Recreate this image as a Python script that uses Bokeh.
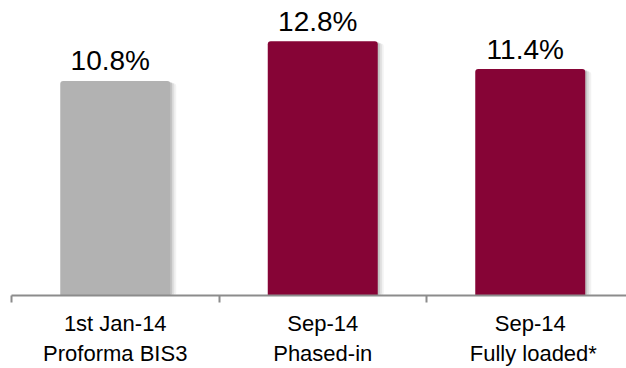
from bokeh.plotting import figure
from bokeh.models import Range1d, LinearAxis, FixedTicker, CustomJSTickFormatter, ColumnDataSource
from bokeh.core.properties import value
from bokeh.embed import file_html
from bokeh.resources import INLINE

categories = ["1st Jan-14\nProforma BIS3", "Sep-14\nPhased-in", "Sep-14\n\u2008Fully loaded*"]
values = [10.8, 12.8, 11.4]
value_labels = ["10.8%", "12.8%", "11.4%"]
colors = ["#B2B2B2", "#860436", "#860436"]

xs = [i + 0.5 for i in range(len(values))]
px = 1 / 207.5  # one pixel in x data units

p = figure(width=626, height=368, output_backend="svg", toolbar_location=None,
           x_range=Range1d(0, 615 / 207.5), y_range=Range1d(0, 14.85),
           x_axis_location=None, y_axis_location=None,
           min_border_left=11, min_border_right=0, min_border_top=0, min_border_bottom=71)
p.outline_line_color = None
p.xgrid.visible = False
p.ygrid.visible = False
p.background_fill_color = "white"
p.border_fill_color = "white"

src = ColumnDataSource(dict(x=xs, top=values, color=colors, label=value_labels))

# soft shadow to the right
for k, a in [(6, 0.05), (4, 0.08), (2, 0.12)]:
    p.vbar(x=[x + k * px for x in xs], top=[v - k * 0.02 for v in values], bottom=-0.15,
           width=110 * px, fill_color="black", fill_alpha=a, line_color=None, border_radius=3)

p.vbar(x="x", top="top", bottom=-0.15, width=110 * px, fill_color="color", line_color=None,
       border_radius=[3, 3, 0, 0], source=src)

p.text(x="x", y="top", text="label", source=src, text_align="center", text_baseline="alphabetic",
       x_offset=-5, y_offset=-20, text_font=value("Liberation Sans"), text_font_size="28px",
       text_color="#000000")

ax = LinearAxis(ticker=FixedTicker(ticks=xs, minor_ticks=[0, 1, 2]),
                formatter=CustomJSTickFormatter(args=dict(labels=categories),
                                                code="const i = Math.floor(tick); return labels[i] ?? '';"))
ax.axis_line_color = "#8C8C8C"
ax.axis_line_width = 2
ax.major_tick_line_color = None
ax.major_tick_out = 0
ax.major_tick_in = 0
ax.minor_tick_out = 7
ax.minor_tick_in = 0
ax.minor_tick_line_color = "#8C8C8C"
ax.minor_tick_line_width = 2
ax.major_label_standoff = 8
ax.major_label_text_font = "Liberation Sans"
ax.major_label_text_font_size = "22px"
ax.major_label_text_color = "#000000"
ax.major_label_text_line_height = 1.2
p.add_layout(ax, "below")

open("out.html", "w").write(file_html(p, INLINE))
